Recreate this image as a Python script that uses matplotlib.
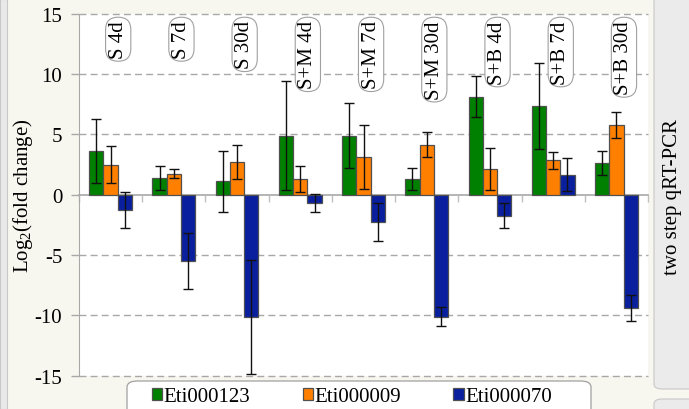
import numpy as np
import matplotlib.pyplot as plt
from matplotlib.patches import FancyBboxPatch, Rectangle

plt.rcParams['font.family'] = ['Liberation Serif', 'DejaVu Serif']
plt.rcParams['mathtext.fontset'] = 'custom'
plt.rcParams['mathtext.rm'] = 'Liberation Serif'
plt.rcParams['mathtext.it'] = 'Liberation Serif:italic'

groups = ['S 4d', 'S 7d', 'S 30d', 'S+M 4d', 'S+M 7d', 'S+M 30d',
          'S+B 4d', 'S+B 7d', 'S+B 30d']
genes = ['Eti000123', 'Eti000009', 'Eti000070']

eti123 = [3.6, 1.4, 1.1, 4.9, 4.9, 1.3, 8.1, 7.35, 2.6]
eti123_err = [2.65, 0.97, 2.55, 4.5, 2.7, 0.95, 1.7, 3.6, 1.0]
eti009 = [2.5, 1.75, 2.7, 1.3, 3.1, 4.15, 2.1, 2.85, 5.75]
eti009_err = [1.5, 0.35, 1.42, 1.1, 2.66, 1.05, 1.73, 0.73, 1.07]
eti070 = [-1.25, -5.5, -10.15, -0.7, -2.25, -10.1, -1.75, 1.65, -9.4]
eti070_err = [1.47, 2.3, 4.7, 0.72, 1.6, 0.8, 1.05, 1.37, 1.07]

series = [(eti123, eti123_err, '#008000'),
          (eti009, eti009_err, '#ff8000'),
          (eti070, eti070_err, '#0a1f9e')]

fig = plt.figure(figsize=(6.89, 4.10), dpi=100)
fig.patch.set_facecolor('#f8f7ef')
W, H = 689.0, 410.0

# side panels of the surrounding window
fig.patches.append(Rectangle((0, 0), 7 / W, 1, transform=fig.transFigure,
                             facecolor='#e9e9e9', edgecolor='#c8c8c8', lw=0.8))
fig.patches.append(FancyBboxPatch((654 / W, 20 / H), 60 / W, 400 / H,
                                  boxstyle='round,pad=0,rounding_size=0.012',
                                  transform=fig.transFigure,
                                  facecolor='#ebebeb', edgecolor='#c8c8c8', lw=0.8))
fig.patches.append(FancyBboxPatch((654 / W, -20 / H), 60 / W, 30 / H,
                                  boxstyle='round,pad=0,rounding_size=0.012',
                                  transform=fig.transFigure,
                                  facecolor='#ebebeb', edgecolor='#c8c8c8', lw=0.8))
fig.text(673 / W, 1 - 197 / H, 'two step qRT-PCR', rotation=90,
         ha='center', va='center', fontsize=15)

ax = fig.add_axes([79 / W, 1 - 376.7 / H, 569 / W, 362 / H])
ax.set_facecolor('white')

x = np.arange(len(groups))
w = 0.226
for k, (vals, errs, col) in enumerate(series):
    ax.bar(x + (k - 1) * w, vals, w, color=col, edgecolor='#505050', lw=0.9,
           label=genes[k], zorder=3,
           yerr=errs, error_kw=dict(ecolor='#111111', elinewidth=1.0,
                                    capsize=3.5, capthick=1.0, zorder=4))

ax.set_xlim(-0.5, len(groups) - 0.5)
ax.set_ylim(-15, 15)
ax.set_yticks([-15, -10, -5, 0, 5, 10, 15])
ax.set_yticklabels(['-15', '-10', '-5', '0', '5', '10', '15'])
for v in [-15, -10, -5, 5, 10, 15]:
    ax.axhline(v, color='#a8a8a8', lw=1.0, ls=(0, (5, 3)), zorder=1,
               clip_on=False)
ax.tick_params(axis='y', length=6, width=1, color='#a8a8a8',
               labelsize=15, pad=6)

ax.spines['top'].set_visible(False)
ax.spines['right'].set_visible(False)
ax.spines['left'].set_color('#a8a8a8')
ax.spines['bottom'].set_position(('data', 0))
ax.spines['bottom'].set_color('#a8a8a8')
ax.spines['bottom'].set_linewidth(1.2)
ax.set_xticks(np.arange(len(groups) + 1) - 0.5)
ax.tick_params(axis='x', length=5, width=1, color='#c0c0c0',
               labelbottom=False, direction='out')

ax.set_ylabel('Log$_2$(fold change)', fontsize=15)
ax.yaxis.set_label_coords(-0.077, 0.5)

for i, g in enumerate(groups):
    ax.text(i + 0.12, 14.45, g, rotation=90, ha='center', va='top',
            fontsize=15, zorder=5,
            bbox=dict(boxstyle='round,pad=0.15,rounding_size=0.6',
                      facecolor='white', edgecolor='#a0a0a0', lw=0.8))

# legend frame drawn by hand, entries via legend
fig.patches.append(FancyBboxPatch((127 / W, -20 / H), 464 / W, 48 / H,
                                  boxstyle='round,pad=0,rounding_size=0.015',
                                  transform=fig.transFigure,
                                  facecolor='white', edgecolor='#a0a0a0', lw=0.9))
leg = fig.legend(loc='center', bbox_to_anchor=(352 / W, 1 - 398 / H),
                 ncol=3, fontsize=15, frameon=False,
                 handlelength=0.5, handleheight=0.5, handletextpad=0.08,
                 columnspacing=2.5, borderpad=0, borderaxespad=0)

fig.savefig('out.png', dpi=100, facecolor=fig.get_facecolor())
